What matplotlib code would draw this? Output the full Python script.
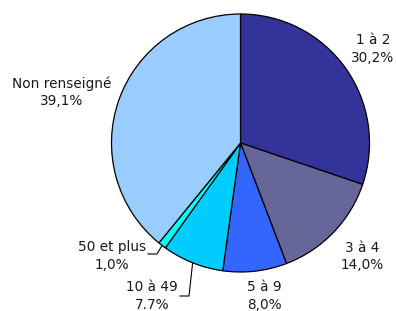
import numpy as np
import matplotlib
matplotlib.use("Agg")
import matplotlib.pyplot as plt

categories = ["1 à 2", "3 à 4", "5 à 9", "10 à 49", "50 et plus", "Non renseigné"]
values = [30.2, 14.0, 8.0, 7.7, 1.0, 39.1]
pct_labels = ["30,2%", "14,0%", "8,0%", "7.7%", "1,0%", "39,1%"]
colors = ["#333399", "#666699", "#3366FF", "#00CCFF", "#00FFFF", "#99CCFF"]

W, H = 396, 311
fig = plt.figure(figsize=(W / 100, H / 100), dpi=100)
ax = fig.add_axes([0, 0, 1, 1])

cx, cy, R = 240.5, H - 143, 129
wedges, _ = ax.pie(values, colors=colors, startangle=90, counterclock=False,
                   center=(cx, cy), radius=R, frame=True,
                   wedgeprops=dict(edgecolor="black", linewidth=0.9))
ax.set_xlim(0, W)
ax.set_ylim(0, H)
ax.set_aspect("equal")
ax.axis("off")

# label block centers (pixel coords, y from top)
label_pos = [(373, 49), (362, 256.5), (264, 296), (152, 296), (112, 256), (62, 92)]
for cat, pl, (px, py) in zip(categories, pct_labels, label_pos):
    ax.text(px, H - py, f"{cat}\n{pl}", ha="center", va="center",
            multialignment="center", fontsize=9.8, color="#1a1a1a",
            family="DejaVu Sans", linespacing=1.3)

# leader lines for small slices
cum = np.cumsum([0] + values)
def edge_point(i):
    mid = (cum[i] + cum[i + 1]) / 2 / 100 * 360
    a = np.deg2rad(mid)
    return cx + R * np.sin(a), cy + R * np.cos(a)

x0, y0 = edge_point(4)
ax.plot([x0, 157, 148], [y0, H - 254, H - 254], color="black", lw=0.8)
x1, y1 = edge_point(3)
ax.plot([x1, 189, 180], [y1, H - 296, H - 296], color="black", lw=0.8)

fig.savefig("out.png", dpi=100)
